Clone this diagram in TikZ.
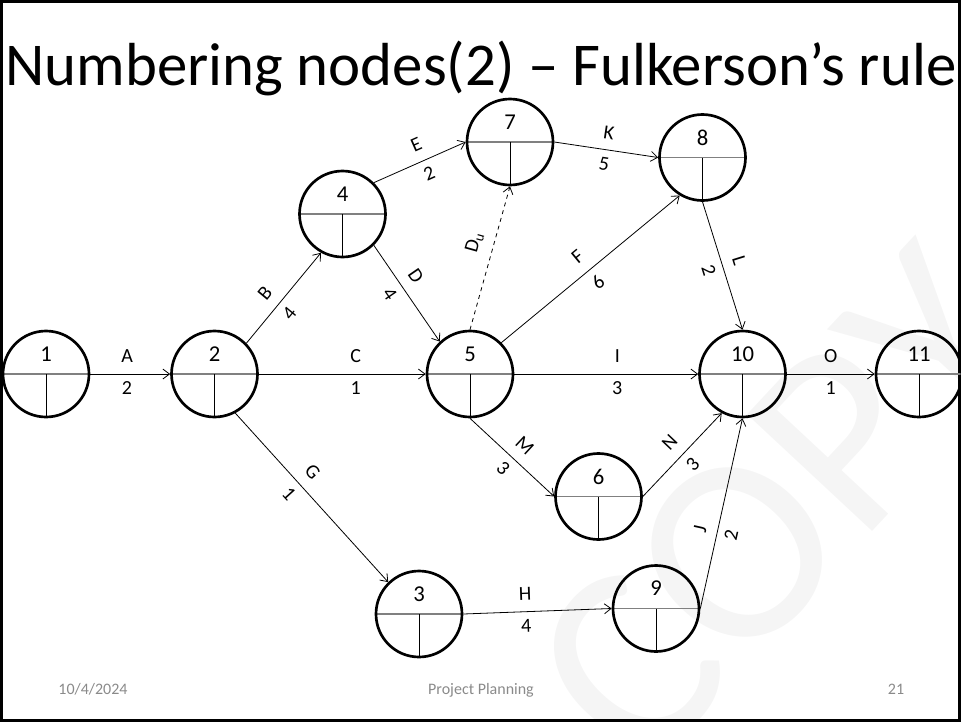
\documentclass[tikz,border=0pt]{standalone}
\usepackage{fontspec}
\setmainfont{Carlito}
\usetikzlibrary{arrows.meta}

\tikzset{
  evt/.style={circle, draw, line width=2pt, minimum size=64.5pt, inner sep=0pt,
    path picture={
      \draw[line width=1.1pt, black!50] (path picture bounding box.west) -- (path picture bounding box.east);
      \draw[line width=0.75pt] (path picture bounding box.center) -- (path picture bounding box.south);
    },
    label={[numlab]center:#1}},
  numlab/.style={font=\fontsize{17}{17}\selectfont, inner sep=0pt, yshift=15pt},
  act/.style={line width=0.6pt, -{Straight Barb[length=5pt,width=7.5pt]}},
  dummy/.style={act, dashed},
  lab/.style={font=\fontsize{15}{15}\selectfont, inner sep=0pt, sloped},
  up/.style={lab, above=8pt},
  dn/.style={lab, below=5.5pt},
  foot/.style={font=\fontsize{12}{12}\selectfont, text=black!46, inner sep=0pt, anchor=base},
  wm/.style={font=\fontsize{200}{200}\selectfont, text=black!4, inner sep=0pt},
}

\begin{document}
\begin{tikzpicture}[x=0.75pt, y=-0.75pt]
\useasboundingbox (0,0) rectangle (961,722);

% watermark behind everything
\begin{scope}
  \clip (1.5,1.5) rectangle (959.5,720.5);
  \node[wm, rotate=47] (wmark) at (780,506) {COPY};
\end{scope}

% slide frame
\draw[line width=2.25pt] (1.5,1.5) rectangle (959.5,720.5);

% title
\node[font=\fontsize{45.6}{54}\selectfont, anchor=base, inner sep=0pt] (title) at (481,85)
  {Numbering nodes(2) – Fulkerson’s rule};

% events
\node[evt=1]  (n1)  at (46,374) {};
\node[evt=2]  (n2)  at (214.5,374) {};
\node[evt=5]  (n5)  at (470,374) {};
\node[evt=10] (n10) at (742.5,374) {};
\node[evt=11] (n11) at (919,374) {};
\node[evt=4]  (n4)  at (342.5,214) {};
\node[evt=7]  (n7)  at (510,142) {};
\node[evt=8]  (n8)  at (702.5,157.5) {};
\node[evt=6]  (n6)  at (598.5,496.5) {};
\node[evt=9]  (n9)  at (656,608.5) {};
\node[evt=3]  (n3)  at (419,614) {};

% activities
\draw[act] (n1.east) -- node[up,pos=.46] (lA) {A} node[dn,pos=.46] (dA) {2} (n2.west);
\draw[act] (n2.east) -- node[up,pos=.58] (lC) {C} node[dn,pos=.58] (dC) {1} (n5.west);
\draw[act] (n5.east) -- node[up,pos=.56] (lI) {I} node[dn,pos=.56] (dI) {3} (n10.west);
\draw[act] (n10.east) -- node[up,pos=.5] (lO) {O} node[dn,pos=.5] (dO) {1} (n11.west);
\draw[act] (n2.44) -- node[up,pos=.43] (lB) {B} node[dn,pos=.43] (dB) {4} (n4.241);
\draw[act] (n4.315) -- node[up,pos=.42] (lD) {D} node[dn,pos=.42] (dD) {4} (n5.133);
\draw[act] (n4.45) -- node[up,pos=.54] (lE) {E} node[dn,pos=.54] (dE) {2} (n7.west);
\draw[act] (n7.east) -- node[up,pos=.5] (lK) {K} node[dn,pos=.5] (dK) {5} (n8.west);
\draw[dummy] (n5.north) -- node[up,pos=.57] (lDu) {D\textsubscript{u}} (n7.south);
\draw[act] (n5.45) -- node[up,pos=.49] (lF) {F} node[dn,pos=.49] (dF) {6} (n8.239);
\draw[act] (n8.south) -- node[up,pos=.5] (lL) {L} node[dn,pos=.5] (dL) {2} (n10.north);
\draw[act] (n5.south) -- node[up,pos=.51] (lM) {M} node[dn,pos=.51] (dM) {3} (n6.west);
\draw[act] (n6.east) -- node[up,pos=.5] (lN) {N} node[dn,pos=.5] (dN) {3} (n10.242);
\draw[act] (n9.east) -- node[up,pos=.4] (lJ) {J} node[dn,pos=.4] (dJ) {2} (n10.south);
\draw[act] (n2.298) -- node[up,pos=.42] (lG) {G} node[dn,pos=.42] (dG) {1} (n3.134);
\draw[act] (n3.east) -- node[up,pos=.42] (lH) {H} node[dn,pos=.42] (dH) {4} (n9.west);

% footer
\node[foot] (date) at (93,694) {10/4/2024};
\node[foot] (ftitle) at (481,694) {Project Planning};
\node[foot] (page) at (896,694) {21};
\end{tikzpicture}
\end{document}
